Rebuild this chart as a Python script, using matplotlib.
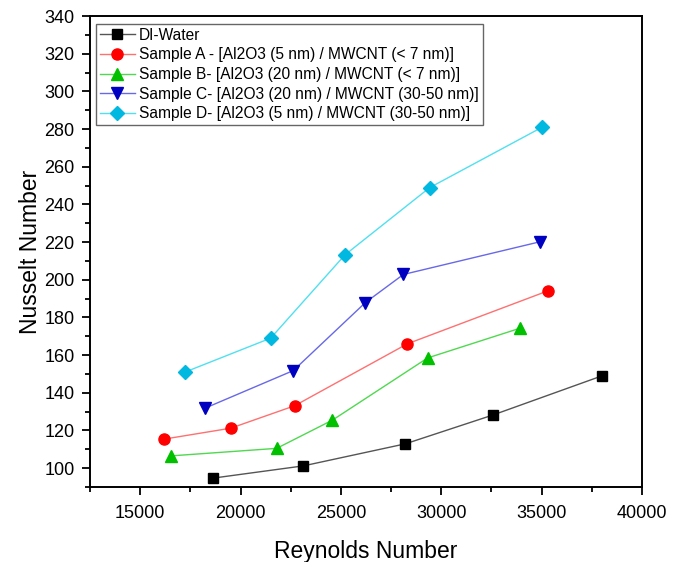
import matplotlib.pyplot as plt
from matplotlib.ticker import MultipleLocator

plt.rcParams["font.family"] = ["Liberation Sans", "DejaVu Sans"]

# Data
re_water = [18630, 23130, 28210, 32600, 38010]
nu_water = [94.7, 101.2, 112.9, 128.3, 149.0]

re_a = [16190, 19510, 22690, 28310, 35310]
nu_a = [115.4, 121.2, 133.1, 166.0, 194.1]

re_b = [16530, 21800, 24580, 29320, 33930]
nu_b = [106.5, 110.5, 125.5, 158.5, 174.3]

re_c = [18220, 22630, 26220, 28110, 34930]
nu_c = [131.8, 151.8, 187.9, 202.8, 220.2]

re_d = [17210, 21500, 25200, 29420, 35010]
nu_d = [150.9, 169.0, 213.2, 248.9, 280.9]

labels = [
    "DI-Water",
    "Sample A - [Al2O3 (5 nm) / MWCNT (< 7 nm)]",
    "Sample B- [Al2O3 (20 nm) / MWCNT (< 7 nm)]",
    "Sample C- [Al2O3 (20 nm) / MWCNT (30-50 nm)]",
    "Sample D- [Al2O3 (5 nm) / MWCNT (30-50 nm)]",
]

fig = plt.figure(figsize=(6.83, 5.62), dpi=100)
ax = fig.add_axes([0.1318, 0.1335, 0.8082, 0.838])

series = [
    (re_water, nu_water, "s", "#000000", "#555555", 7.2),
    (re_a, nu_a, "o", "#ff0000", "#ff7070", 8),
    (re_b, nu_b, "^", "#00c000", "#50d850", 8.5),
    (re_c, nu_c, "v", "#0000c0", "#6868e8", 8.5),
    (re_d, nu_d, "D", "#00b8e0", "#50e0f0", 7),
]

for (x, y, m, mc, lc, ms), lab in zip(series, labels):
    # thin light line, solid marker on top
    ax.plot(x, y, color=lc, linewidth=1.0, marker=m, markersize=ms,
            markerfacecolor=mc, markeredgecolor=mc, label=lab)

ax.set_xlim(12500, 40000)
ax.set_ylim(90, 340)
ax.xaxis.set_major_locator(MultipleLocator(5000))
ax.xaxis.set_minor_locator(MultipleLocator(2500))
ax.yaxis.set_major_locator(MultipleLocator(20))
ax.yaxis.set_minor_locator(MultipleLocator(10))

ax.tick_params(which="both", direction="out", top=False, right=False,
               width=1.3, labelsize=13)
ax.tick_params(which="major", length=6)
ax.tick_params(which="minor", length=3.5)
ax.tick_params(axis="x", which="major", pad=7)
ax.tick_params(axis="y", which="major", pad=5)
for sp in ax.spines.values():
    sp.set_linewidth(1.4)

ax.set_xlabel("Reynolds Number", fontsize=16.5, labelpad=13)
ax.set_ylabel("Nusselt Number", fontsize=16.5, labelpad=2)

leg = ax.legend(loc="upper left", bbox_to_anchor=(0.006, 0.99), fontsize=11.2,
                fancybox=False, edgecolor="#666666", framealpha=1,
                borderpad=0.25, labelspacing=0.3, handlelength=2.2,
                handletextpad=0.3, borderaxespad=0.2)
leg.get_frame().set_linewidth(1.0)

fig.savefig("out.png", dpi=100)
